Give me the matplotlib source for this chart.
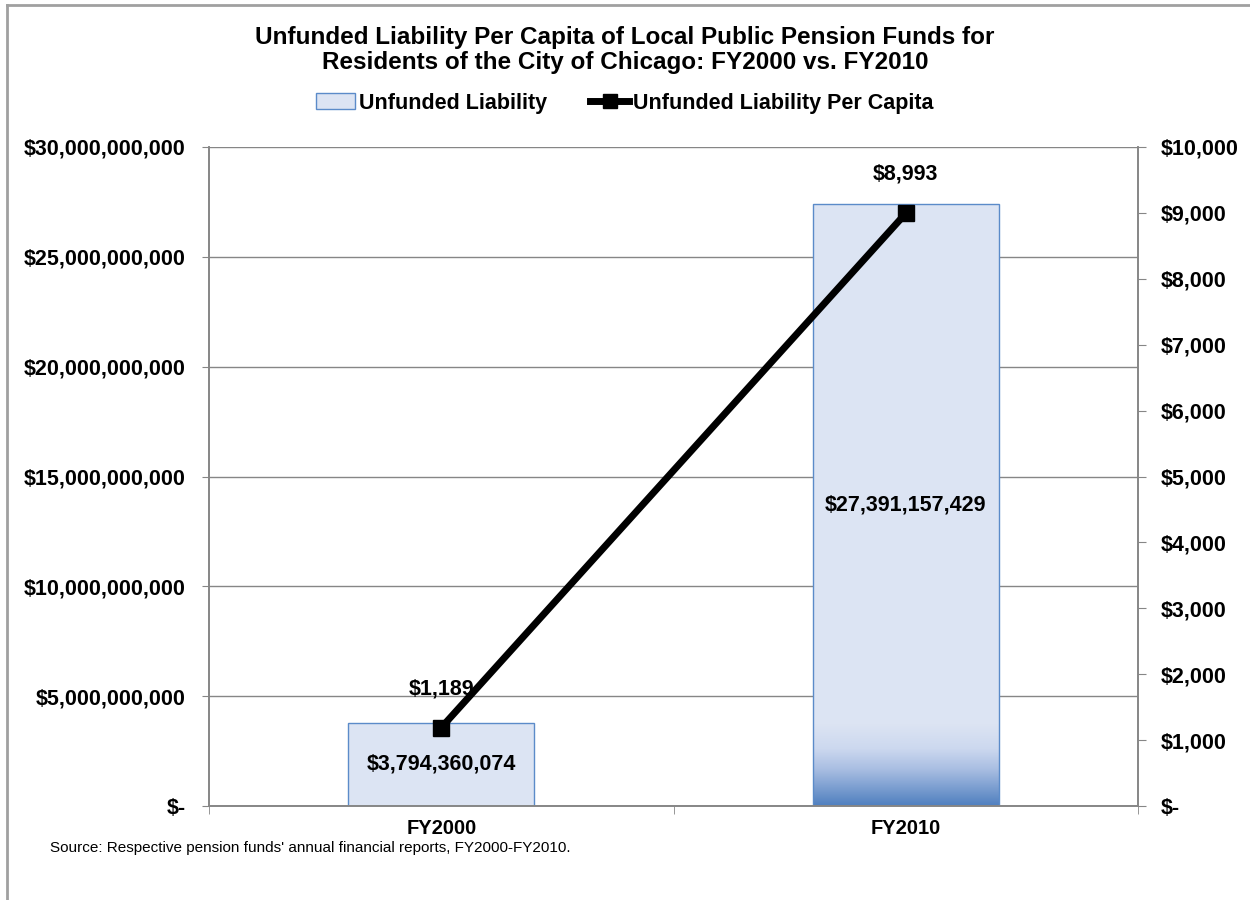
import numpy as np
import matplotlib
matplotlib.use("Agg")
import matplotlib.pyplot as plt
from matplotlib.lines import Line2D
from matplotlib.patches import Patch
from matplotlib.ticker import FuncFormatter, MultipleLocator

# データ
categories = ["FY2000", "FY2010"]
unfunded = [3794360074, 27391157429]
per_capita = [1189, 8993]

plt.rcParams['font.family'] = ['Liberation Sans', 'DejaVu Sans']
plt.rcParams['font.weight'] = 'bold'

grid_c = "#868686"
bar_fill = "#DCE4F3"
bar_edge = "#5B8BC9"
fs = 15.5

fig = plt.figure(figsize=(12.5, 9), dpi=100)
ax = fig.add_axes([209/1250, 1-806/900, (1138-209)/1250, (806-147)/900])
ax2 = ax.twinx()

x = np.arange(len(categories))
bars = ax.bar(x, unfunded, width=0.4, color=bar_fill, linewidth=0, zorder=2)

# FY2010の棒の下部グラデーション
b = bars[1]
grad = np.linspace(0, 1, 256).reshape(-1, 1)
cmap = matplotlib.colors.LinearSegmentedColormap.from_list(
    "g", [(0, "#4F7FBF"), (0.45, "#A9BEE2"), (0.7, "#CCD8EF"), (1, bar_fill)])
im = ax.imshow(grad, cmap=cmap, aspect='auto', origin='lower',
               extent=[b.get_x(), b.get_x() + b.get_width(), 0, 3.7e9], zorder=2.1)
im.set_clip_path(b)
# 枠線
ax.bar(x, unfunded, width=0.4, fill=False, edgecolor=bar_edge, linewidth=1, zorder=2.2)

ax.set_xlim(-0.5, 1.5)
ax.set_ylim(0, 30e9)
ax.yaxis.set_major_locator(MultipleLocator(5e9))
ax.yaxis.set_major_formatter(FuncFormatter(lambda v, p: "$-" if v == 0 else f"${v:,.0f}"))
ax.grid(axis='y', color=grid_c, linewidth=1, zorder=0)
ax.set_axisbelow(True)

ax.set_xticks(x)
ax.set_xticklabels(categories, fontsize=14.5, fontweight='bold')
ax.set_xticks([-0.5, 0.5, 1.5], minor=True)
ax.tick_params(axis='x', which='major', length=0, pad=9)
ax.tick_params(axis='x', which='minor', length=6, color=grid_c)
ax.tick_params(axis='y', length=5, color=grid_c, labelsize=fs, pad=12)

ax2.set_ylim(0, 10000)
ax2.yaxis.set_major_locator(MultipleLocator(1000))
ax2.yaxis.set_major_formatter(FuncFormatter(lambda v, p: "$-" if v == 0 else f"${v:,.0f}"))
ax2.tick_params(axis='y', length=6, color=grid_c, labelsize=fs, pad=10)
ax2.plot(x, per_capita, color='black', linewidth=5, marker='s', markersize=12, zorder=5)

for s in [ax, ax2]:
    s.spines['top'].set_visible(False)
    for k in ['left', 'right', 'bottom']:
        s.spines[k].set_color(grid_c)
        s.spines[k].set_linewidth(1.2)

# ラベル
for xi, v in zip(x, unfunded):
    ax.text(xi, v / 2, f"${v:,.0f}", ha='center', va='center', fontsize=fs, fontweight='bold', zorder=6)
for xi, v in zip(x, per_capita):
    ax2.annotate(f"${v:,.0f}", (xi, v), xytext=(0, 28), textcoords='offset points',
                 ha='center', va='center', fontsize=fs, fontweight='bold')

fig.text(0.5, 1-50/900, "Unfunded Liability Per Capita of Local Public Pension Funds for\n"
         "Residents of the City of Chicago: FY2000 vs. FY2010",
         ha='center', va='center', fontsize=17.5, fontweight='bold', linespacing=1.15)

handles = [Patch(facecolor=bar_fill, edgecolor=bar_edge, linewidth=1),
           Line2D([], [], color='black', linewidth=5, marker='s', markersize=10)]
fig.legend(handles, ["Unfunded Liability", "Unfunded Liability Per Capita"],
           loc='center', bbox_to_anchor=(0.5, 1-103/900), ncol=2, frameon=False,
           prop={'size': fs, 'weight': 'bold'}, handlelength=1.8, handletextpad=0.2,
           columnspacing=2.0)

fig.text(50/1250, 1-848/900, "Source: Respective pension funds' annual financial reports, FY2000-FY2010.",
         ha='left', va='center', fontsize=11, fontweight='normal')

# 外枠
fig.add_artist(Line2D([7/1250, 1], [1-5/900, 1-5/900], color="#A0A0A0", linewidth=2))
fig.add_artist(Line2D([7/1250, 7/1250], [0, 1-5/900], color="#A0A0A0", linewidth=2))

fig.savefig("out.png", dpi=100)
